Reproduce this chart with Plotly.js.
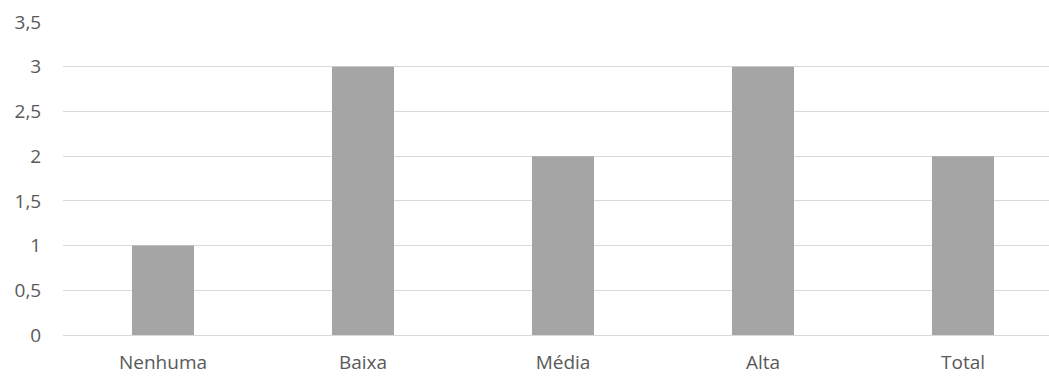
<!DOCTYPE html>
<html>
<head>
<meta charset="utf-8">
<script src="https://cdn.plot.ly/plotly-3.0.1.min.js"></script>
<style>html,body{margin:0;padding:0;background:#fff;}</style>
</head>
<body>
<div id="chart" style="width:1049px;height:376px;"></div>
<script>
const categories = ["Nenhuma", "Baixa", "Média", "Alta", "Total"];
const values = [1, 3, 2, 3, 2];
const yTicks = [0, 0.5, 1, 1.5, 2, 2.5, 3, 3.5];
const yTickLabels = ["0", "0,5", "1", "1,5", "2", "2,5", "3", "3,5"];

const trace = {
  type: "bar",
  x: [0, 1, 2, 3, 4],
  y: values,
  width: 0.31,
  marker: {color: "#a5a5a5"},
  hoverinfo: "none"
};

const layout = {
  width: 1049,
  height: 376,
  margin: {l: 63, r: 0, t: 22, b: 41},
  paper_bgcolor: "#ffffff",
  plot_bgcolor: "#ffffff",
  showlegend: false,
  separators: ", ",
  font: {family: "Open Sans, Liberation Sans, sans-serif", size: 19, color: "#595959"},
  xaxis: {
    range: [-0.5, 4.43],
    tickmode: "array",
    tickvals: [0, 1, 2, 3, 4],
    ticktext: categories,
    showgrid: false,
    zeroline: false,
    showline: false,
    ticks: "outside",
    ticklen: 10,
    tickcolor: "rgba(0,0,0,0)",
    fixedrange: true
  },
  yaxis: {
    range: [0, 3.5],
    tickmode: "array",
    tickvals: yTicks,
    ticktext: yTickLabels,
    showgrid: true,
    gridcolor: "#d9d9d9",
    gridwidth: 1,
    zeroline: true,
    zerolinecolor: "#d9d9d9",
    zerolinewidth: 1,
    showline: false,
    ticks: "outside",
    ticklen: 17,
    tickcolor: "rgba(0,0,0,0)",
    fixedrange: true
  }
};

Plotly.newPlot("chart", [trace], layout, {displayModeBar: false, staticPlot: true});
</script>
</body>
</html>
